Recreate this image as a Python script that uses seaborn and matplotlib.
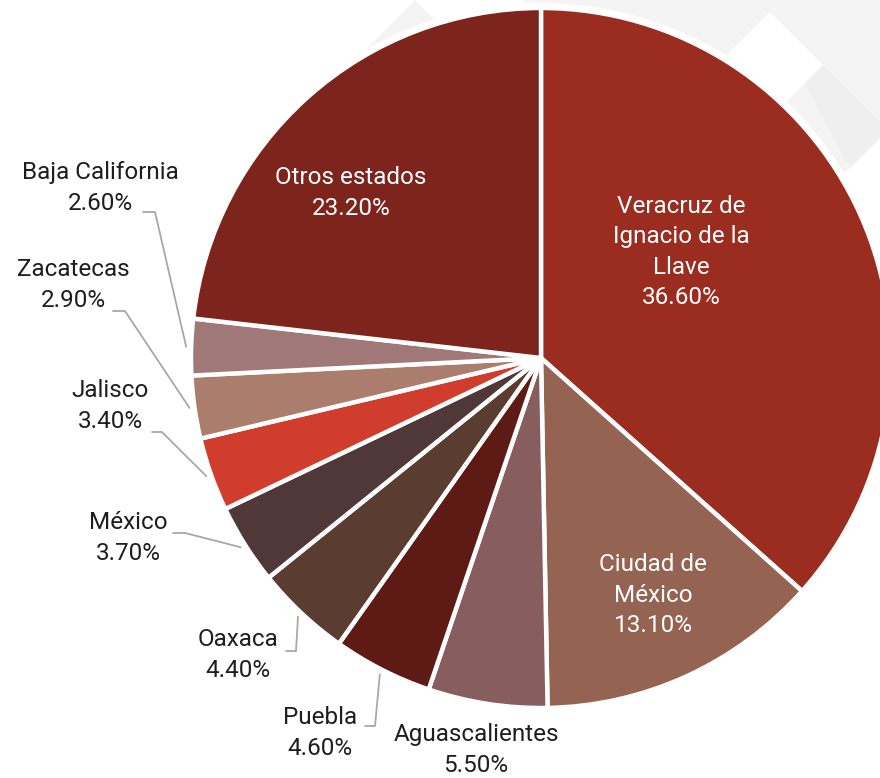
import numpy as np
import matplotlib.pyplot as plt
import seaborn as sns

# --- Data ---
states = ["Veracruz de Ignacio de la Llave", "Ciudad de México", "Aguascalientes",
          "Puebla", "Oaxaca", "México", "Jalisco", "Zacatecas",
          "Baja California", "Otros estados"]
shares = [36.6, 13.1, 5.5, 4.6, 4.4, 3.7, 3.4, 2.9, 2.6, 23.2]
label_texts = ["Veracruz de\nIgnacio de la\nLlave", "Ciudad de\nMéxico", "Aguascalientes",
               "Puebla", "Oaxaca", "México", "Jalisco", "Zacatecas",
               "Baja California", "Otros estados"]
slice_colors = ["#9a2c20", "#956352", "#875e5d", "#5e1b15", "#5a3c31",
                "#503838", "#d13d2c", "#ab7d6c", "#a07877", "#7d241c"]

# --- Layout (pixel positions in the 880x778 canvas) ---
W, H = 880, 778
CX, CY, R = 541, 358, 348
inside = {0: (681, 252), 1: (653, 595), 9: (351, 193)}
outside = {2: (476, 750), 3: (320, 733), 4: (238, 655), 5: (128, 538),
           6: (110, 406), 7: (73, 285), 8: (100, 188)}
# leader: text-side start, elbow (pixels)
leaders = {3: [(365, 726), (375, 726)], 4: [(286, 651), (296, 651)],
           5: [(173, 533), (185, 533)], 6: [(152, 432), (162, 432)],
           7: [(113, 311), (125, 311)], 8: [(143, 212), (155, 212)]}
FONT_SIZE = 17.5
LINE_SP = 1.4


def px(x, y):
    # pixel -> data coords (pie centred at 0,0 with radius 1)
    return (x - CX) / R, (CY - y) / R


sns.set_theme(style="white")
plt.rcParams['font.family'] = ['Roboto', 'DejaVu Sans']

fig = plt.figure(figsize=(W / 100, H / 100), dpi=100)
ax = fig.add_axes([0, 0, 1, 1])
ax.set_axis_off()

# decorative background diamonds
bg_gray = [px(523, 0), px(880, 0), px(880, 138), px(770, 247)]
bg_white = [px(770, 12), px(823, 65), px(770, 118), px(717, 65)]
bg_stripe = [px(823, 65), px(880, 122), px(880, 138), px(850, 168), px(805, 84)]
bg_left = [px(415, 0), px(535, 120), px(415, 240), px(295, 120)]
for poly, col in [(bg_gray, "#f4f4f4"), (bg_white, "white"),
                  (bg_stripe, "#efefef"), (bg_left, "#f4f4f4")]:
    xs, ys = zip(*poly)
    ax.fill(xs, ys, color=col, zorder=0, lw=0)

# white ring around the pie
ax.add_patch(plt.Circle((0, 0), 1 + 7 / R, color="white", zorder=1, lw=0))

wedges, _ = ax.pie(shares, colors=slice_colors, startangle=90, counterclock=False,
                   radius=1 + 2 / R, center=(0, 0),
                   wedgeprops=dict(edgecolor="white", linewidth=3.2))
for w in wedges:
    w.set_zorder(2)

# labels
for i, (x, y) in inside.items():
    tx, ty = px(x, y)
    ax.text(tx, ty, f"{label_texts[i]}\n{shares[i]:.2f}%", ha="center", va="center",
            color="white", fontsize=FONT_SIZE, linespacing=LINE_SP, zorder=3)

for i, (x, y) in outside.items():
    tx, ty = px(x, y)
    ax.text(tx, ty, f"{label_texts[i]}\n{shares[i]:.2f}%", ha="center", va="center",
            color="#1e1e1e", fontsize=FONT_SIZE, linespacing=LINE_SP, zorder=3)

cum = np.cumsum([0] + shares[:-1])
for i, pts in leaders.items():
    mid = np.deg2rad(90 - 3.6 * (cum[i] + shares[i] / 2))
    end = (1.02 * np.cos(mid), 1.02 * np.sin(mid))
    line = [px(*p) for p in pts] + [end]
    xs, ys = zip(*line)
    ax.plot(xs, ys, color="#a8a8a8", lw=1.3, zorder=1.5)

ax.set_xlim(-CX / R, (W - CX) / R)
ax.set_ylim((CY - H) / R, CY / R)
ax.set_aspect("equal")

fig.savefig("out.png", dpi=100, facecolor="white")
